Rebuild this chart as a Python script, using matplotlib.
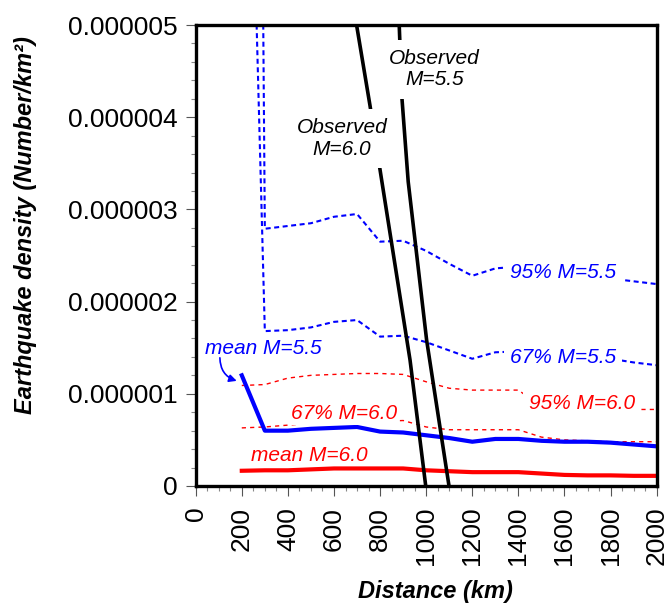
import matplotlib
matplotlib.use("Agg")
import numpy as np
import matplotlib.pyplot as plt
from matplotlib.ticker import MultipleLocator, FuncFormatter

plt.rcParams['font.family'] = ['Liberation Sans', 'DejaVu Sans']

# =========================
# data (density values in units of 1e-6 per km^2)
# =========================
dist_km = [200, 300, 400, 500, 600, 700, 800, 900, 1000, 1100,
           1200, 1300, 1400, 1500, 1600, 1700, 1800, 1900, 2000]

p95_m55 = [35.0, 2.79, 2.82, 2.85, 2.92, 2.95, 2.65, 2.66, 2.55, 2.41,
           2.28, 2.36, 2.38, 2.35, 2.31, 2.28, 2.25, 2.22, 2.19]
p67_m55 = [11.0, 1.68, 1.69, 1.72, 1.78, 1.80, 1.62, 1.63, 1.56, 1.47,
           1.38, 1.45, 1.46, 1.44, 1.42, 1.40, 1.38, 1.34, 1.31]
mean_m55 = [1.20, 0.60, 0.60, 0.62, 0.63, 0.64, 0.59, 0.58, 0.55, 0.52,
            0.48, 0.51, 0.51, 0.49, 0.48, 0.48, 0.47, 0.45, 0.43]

p95_m60 = [1.09, 1.10, 1.17, 1.20, 1.21, 1.22, 1.22, 1.21, 1.13, 1.06,
           1.04, 1.04, 1.04, 0.86, 0.84, 0.84, 0.84, 0.83, 0.83]
p67_m60 = [0.63, 0.64, 0.66, 0.68, 0.69, 0.70, 0.70, 0.71, 0.64, 0.61,
           0.61, 0.61, 0.61, 0.53, 0.50, 0.49, 0.48, 0.48, 0.48]
mean_m60 = [0.165, 0.17, 0.17, 0.18, 0.19, 0.19, 0.19, 0.19, 0.17, 0.16,
            0.15, 0.15, 0.15, 0.135, 0.12, 0.115, 0.115, 0.11, 0.11]

# observed curves (distance km, density 1e-6)
obs60_x = [698, 756, 807, 930, 998]
obs60_y = [5.0, 4.13, 3.315, 1.365, 0.0]
obs55_x = [883, 895, 922, 1002, 1099]
obs55_y = [5.0, 4.2, 3.3, 1.58, 0.0]

E6 = 1e-6
BLUE = "#0000ff"
RED = "#ff0000"

def sc(v):
    return np.array(v) * E6

# =========================
# plot
# =========================
fig = plt.figure(figsize=(6.69, 6.04), dpi=100)
ax = fig.add_axes([0.2925, 0.1954, 0.6891, 0.7632])

ax.plot(dist_km, sc(p95_m55), color=BLUE, lw=1.5, dashes=(2.4, 1.7))
ax.plot(dist_km, sc(p67_m55), color=BLUE, lw=1.5, dashes=(2.4, 1.7))
ax.plot(dist_km, sc(p95_m60), color=RED, lw=1.0, dashes=(3, 3))
ax.plot(dist_km, sc(p67_m60), color=RED, lw=1.0, dashes=(3, 3))
ax.plot(dist_km, sc(mean_m55), color=BLUE, lw=3.0)
ax.plot(dist_km, sc(mean_m60), color=RED, lw=3.0)
ax.plot(obs60_x, sc(obs60_y), color="black", lw=2.6)
ax.plot(obs55_x, sc(obs55_y), color="black", lw=2.6)

ax.set_xlim(0, 2000)
ax.set_ylim(0, 5e-6)

# labels on the curves
box = dict(boxstyle="square,pad=0.3", fc="white", ec="none")
obox = dict(boxstyle="square,pad=0.45", fc="white", ec="none")
tkw = dict(fontsize=15, style="italic", ha="center", va="center", zorder=5)
ax.text(635, 3.77e-6, "Observed\nM=6.0", color="black", linespacing=1.15, bbox=obox, **tkw)
ax.text(1037, 4.52e-6, "Observed\nM=5.5", color="black", linespacing=1.15, bbox=obox, **tkw)
ax.text(1594, 2.32e-6, "95% M=5.5", color=BLUE, bbox=box, **tkw)
ax.text(1594, 1.39e-6, "67% M=5.5", color=BLUE, bbox=box, **tkw)
ax.text(1676, 0.90e-6, "95% M=6.0", color=RED, bbox=box, **tkw)
ax.text(643, 0.79e-6, "67% M=6.0", color=RED,
        bbox=dict(boxstyle="square,pad=0.1", fc="white", ec="none"), **tkw)
ax.text(492, 0.335e-6, "mean M=6.0", color=RED, **tkw)
ax.text(292, 1.495e-6, "mean M=5.5", color=BLUE, **tkw)
ax.annotate("", xy=(178, 1.14e-6), xytext=(105, 1.39e-6),
            arrowprops=dict(arrowstyle="-|>", color=BLUE, lw=1.2,
                            connectionstyle="arc3,rad=0.35", mutation_scale=11,
                            shrinkA=0, shrinkB=0))

# axes styling
for s in ax.spines.values():
    s.set_linewidth(2.4)
    s.set_zorder(6)

ax.xaxis.set_major_locator(MultipleLocator(200))
ax.xaxis.set_minor_locator(MultipleLocator(50))
ax.yaxis.set_major_locator(MultipleLocator(1e-6))
ax.yaxis.set_minor_locator(MultipleLocator(0.2e-6))
ax.yaxis.set_major_formatter(FuncFormatter(lambda v, p: "0" if abs(v) < 1e-12 else f"{v:.6f}"))

ax.tick_params(which="major", direction="out", length=7, width=0.8, color="#555555",
               labelsize=19, pad=6)
ax.tick_params(which="minor", direction="out", length=3.5, width=0.8, color="#888888")
ax.tick_params(axis="x", labelrotation=90, pad=8)
ax.tick_params(top=False, right=False, which="both")

ax.set_xlabel("Distance (km)", fontsize=17, fontweight="bold", style="italic")
ax.set_ylabel("Earthquake density (Number/km\u00b2)", fontsize=17, fontweight="bold", style="italic")
ax.xaxis.set_label_coords(0.521, -0.205)
ax.yaxis.set_label_coords(-0.345, 0.566)

fig.savefig("out.png", dpi=100, facecolor="white")
plt.close(fig)
